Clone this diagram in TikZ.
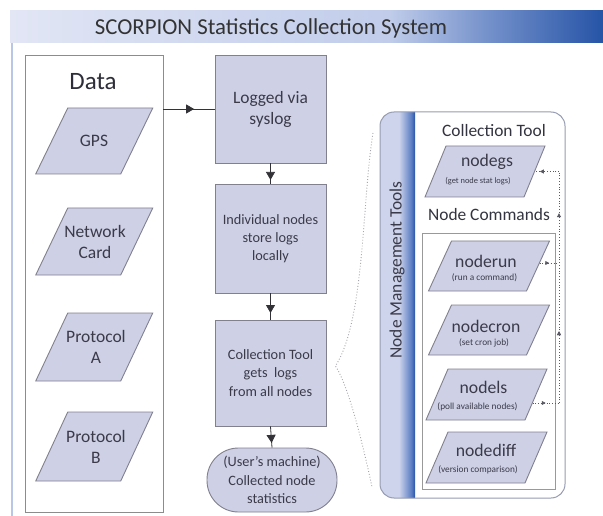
\documentclass[tikz,border=0pt]{standalone}
\usepackage{fontspec}
\setmainfont{Carlito}
\usetikzlibrary{arrows.meta,decorations.markings}

\definecolor{boxfill}{RGB}{206,208,230}
\definecolor{boxline}{RGB}{128,128,142}
\definecolor{txt}{RGB}{58,58,72}
\definecolor{tA}{RGB}{226,230,245}
\definecolor{tB}{RGB}{192,204,234}
\definecolor{tC}{RGB}{110,140,200}
\definecolor{tD}{RGB}{38,84,166}
\definecolor{sA}{RGB}{206,212,236}
\definecolor{sB}{RGB}{90,125,195}
\definecolor{sC}{RGB}{40,82,165}
\definecolor{frame}{RGB}{186,198,230}
\definecolor{panelline}{RGB}{150,156,178}
\definecolor{arrowc}{RGB}{50,50,55}
\definecolor{dotc}{RGB}{90,90,100}
\definecolor{bracec}{RGB}{165,165,172}

\pgfdeclarehorizontalshading{titleshade}{100bp}{color(0bp)=(tA); color(25bp)=(tA); color(57bp)=(tB); color(66bp)=(tC); color(75bp)=(tD); color(100bp)=(tD)}
\pgfdeclarehorizontalshading{stripeshade}{100bp}{color(0bp)=(sA); color(25bp)=(sA); color(52bp)=(sA); color(70bp)=(sB); color(75bp)=(sC); color(100bp)=(sC)}

\newcommand{\para}[5]{%
  \draw[parafill] ({#1-#3/2+#5/2},{#2-#4/2}) -- ({#1+#3/2+#5/2},{#2-#4/2})
    -- ({#1+#3/2-#5/2},{#2+#4/2}) -- ({#1-#3/2-#5/2},{#2+#4/2}) -- cycle;}

\tikzset{
  parafill/.style={fill=boxfill, draw=boxline, line width=0.9pt},
  procbox/.style={rectangle, fill=boxfill, draw=boxline, line width=0.9pt,
    text=txt, align=center, inner sep=0pt},
  bigtxt/.style={font=\fontsize{17.4}{21}\selectfont},
  midtxt/.style={font=\fontsize{14.3}{18.3}\selectfont},
  paratxt/.style={text=txt, align=center, inner sep=0pt, font=\fontsize{17.5}{21}\selectfont},
  cmdtxt/.style={text=txt, anchor=base, inner sep=0pt, font=\fontsize{17.7}{20}\selectfont},
  subtxt/.style={text=txt, anchor=base, inner sep=0pt, font=\fontsize{9.3}{10}\selectfont},
  headtxt/.style={text=txt!90!black, anchor=base, inner sep=0pt, font=\fontsize{17.4}{20}\selectfont},
  mainarrow/.style={draw=arrowc, line width=0.8pt, postaction={decorate},
    decoration={markings, mark=at position #1 with {\arrow{Triangle[length=8pt,width=9pt]}}}},
  rdot/.style={draw=dotc, line width=0.8pt, dotted},
  rarr/.style={postaction={decorate},
    decoration={markings, mark=at position #1 with {\arrow[dotc]{Triangle[length=4pt,width=4pt]}}}},
  bracestyle/.style={draw=bracec, line width=0.9pt, dotted},
}

\begin{document}
\begin{tikzpicture}[x=1pt,y=-1pt]
\useasboundingbox (0,0) rectangle (603,516);
\fill[white] (0,0) rectangle (603,516);

% title bar
\shade[shading=titleshade] (10,11) rectangle (603,43);
\draw[frame, line width=2pt] (12,43) -- (12,516);
\node[anchor=base, text=black!80, inner sep=0pt, font=\fontsize{22.8}{26}\selectfont] (title) at (271,35) {SCORPION Statistics Collection System};

% Data box
\node[rectangle, draw=black!45, line width=0.9pt, minimum width=138pt, minimum height=457pt, inner sep=0pt] (data) at (94,283.5) {};
\node[anchor=base, text=txt!80!black, inner sep=0pt, font=\fontsize{25}{28}\selectfont] (datalabel) at (93,90) {Data};

\para{94.25}{141}{85}{66}{32}
\node[paratxt] (gps) at (94,141) {GPS};
\para{94.25}{241.5}{85}{67}{32}
\node[paratxt] (netcard) at (95,241.5) {Network\\Card};
\para{94.25}{347}{85}{68}{32}
\node[paratxt] (protoA) at (96,347) {Protocol\\A};
\para{94.25}{446.5}{85}{69}{32}
\node[paratxt] (protoB) at (96,446.5) {Protocol\\B};

% process column
\node[procbox, bigtxt, minimum width=111pt, minimum height=108pt] (logged) at (270.5,109) {Logged via\\syslog};
\node[procbox, midtxt, minimum width=111pt, minimum height=109pt] (indiv) at (270.5,238.5) {Individual nodes\\store logs\\locally};
\node[procbox, midtxt, minimum width=111pt, minimum height=106pt] (coll) at (270.5,373) {Collection Tool\\gets\ \ logs\\from all nodes};
\node[procbox, midtxt, minimum width=130pt, minimum height=64pt, rounded corners=31.5pt] (term) at (272,480) {(User's machine)\\Collected node\\statistics};

\draw[mainarrow=0.6] (logged.west -| data.east) -- (logged.west);
\draw[mainarrow=0.82] (logged.south) -- (indiv.north);
\draw[mainarrow=0.75] (indiv.south) -- (coll.north);
\draw[mainarrow=0.78] (coll.south) -- (term.north);

% right panel
\begin{scope}
  \clip[rounded corners=14pt] (380,112) rectangle (565,498);
  \shade[shading=stripeshade] (380,112) rectangle (415,498);
\end{scope}
\draw[panelline, line width=1pt, rounded corners=14pt] (380,112) rectangle (565,498);
\node[rotate=90, text=txt, inner sep=0pt, font=\fontsize{17.4}{20}\selectfont] (nmt) at (397,270) {Node Management Tools};

\node[headtxt] (colltool) at (494,137) {Collection Tool};
\para{485}{171.5}{99}{51}{21}
\node[cmdtxt] (nodegs) at (487,167) {nodegs};
\node[subtxt, font=\fontsize{8.4}{10}\selectfont] (nodegssub) at (478,184) {(get node stat logs)};

\node[headtxt] (nodecmds) at (489,221) {Node Commands};
\node[rectangle, draw=black!40, line width=0.9pt, minimum width=133pt, minimum height=256pt, inner sep=0pt] (cmdbox) at (488.5,361) {};

\para{489}{266}{98}{50}{23}
\node[cmdtxt] (noderun) at (486,267) {noderun};
\node[subtxt] (noderunsub) at (484.5,280) {(run a command)};
\para{489}{330}{98}{50}{23}
\node[cmdtxt] (nodecron) at (486,332) {nodecron};
\node[subtxt] (nodecronsub) at (484,345) {(set cron job)};
\para{486.5}{394.5}{99}{51}{22}
\node[cmdtxt] (nodels) at (483.5,393) {nodels};
\node[subtxt] (nodelssub) at (477.5,409) {(poll available nodes)};
\para{486.5}{457.5}{99}{51}{22}
\node[cmdtxt] (nodediff) at (486,456) {nodediff};
\node[subtxt] (nodediffsub) at (478,472) {(version comparison)};

% dotted connectors on the right
\coordinate (gsR) at (535,171.5);
\coordinate (runR) at (539.5,263);
\coordinate (lsR) at (532.5,403);
\coordinate (jGs) at (559,171.5);
\coordinate (jRun) at (559,263);
\coordinate (jLs) at (559,403);
\draw[rdot, rarr=0.5] (lsR) -- (jLs);
\draw[rdot, rarr=0.5] (runR) -- (jRun);
\draw[rdot, rarr=0.31, postaction={decorate, decoration={markings, mark=at position 0.82 with {\arrow[dotc]{Triangle[length=4pt,width=4pt]}}}}] (jLs) -- (jGs);
\draw[rdot, rarr=0.8] (jGs) -- (gsR);

% dotted brace
\coordinate (bTop) at (373,133);
\coordinate (bBot) at (372,487);
\coordinate (bCusp) at ([shift={(9pt,7pt)}]coll.east);
\draw[bracestyle] (bTop) .. controls (362,200) and (365,320) .. (bCusp)
  .. controls (348,385) and (362,440) .. (bBot);
\end{tikzpicture}
\end{document}
